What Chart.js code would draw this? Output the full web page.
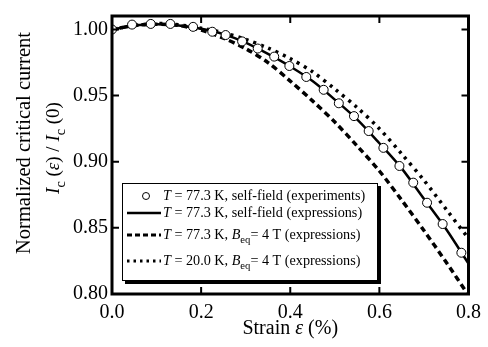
<!DOCTYPE html>
<html>
<head>
<meta charset="utf-8">
<script src="https://cdn.jsdelivr.net/npm/chart.js@4"></script>
<style>
  html, body { margin: 0; padding: 0; background: #fff; }
  #wrap { width: 488px; height: 347px; }
</style>
</head>
<body>
<div id="wrap"><canvas id="strainChart" width="488" height="347"></canvas></div>
<script>
// experiments, T = 77.3 K self-field
const strainExp = [0, 0.045, 0.087, 0.131, 0.182, 0.225, 0.255, 0.292, 0.327, 0.364, 0.398,
    0.436, 0.475, 0.509, 0.543, 0.576, 0.609, 0.645, 0.676, 0.707, 0.742, 0.784];
const icExp = [1.000, 1.0037, 1.0042, 1.0042, 1.002, 0.9983, 0.9958, 0.991, 0.9856, 0.9795, 0.9724,
    0.9641, 0.9544, 0.9442, 0.9345, 0.9232, 0.9105, 0.8968, 0.8842, 0.869, 0.8529, 0.8312];

// expressions
const strainCalc = [0, 0.05, 0.1, 0.15, 0.2, 0.25, 0.3, 0.35, 0.4, 0.45, 0.5, 0.55, 0.6, 0.65, 0.7, 0.75, 0.8];
const icSelf77 = [1.000, 1.003, 1.004, 1.003, 1.0005, 0.9965, 0.990, 0.9815, 0.972, 0.961, 0.947,
    0.932, 0.914, 0.895, 0.872, 0.849, 0.823];
const icB4at77 = [1.000, 1.003, 1.004, 1.003, 0.9995, 0.9935, 0.9855, 0.975, 0.961, 0.946, 0.930,
    0.912, 0.893, 0.871, 0.848, 0.824, 0.799];
const icB4at20 = [1.000, 1.003, 1.0045, 1.0035, 1.001, 0.9975, 0.9925, 0.986, 0.978, 0.968, 0.955,
    0.941, 0.925, 0.906, 0.886, 0.864, 0.842];

const xTicks = [0, 0.2, 0.4, 0.6, 0.8];
const yTicks = [0.80, 0.85, 0.90, 0.95, 1.00];

const SERIF = '"Liberation Serif", "DejaVu Serif", serif';

function pairs(xs, ys) {
    return xs.map((x, i) => ({ x: x, y: ys[i] }));
}

// draws a row of text parts: {t, it (italic), sub}
function richWidth(ctx, parts, size) {
    let w = 0;
    parts.forEach(p => {
        const s = p.sub ? size * 0.75 : size;
        ctx.font = (p.it ? 'italic ' : '') + s + 'px ' + SERIF;
        w += ctx.measureText(p.t).width;
    });
    return w;
}
function richText(ctx, parts, x, y, size) {
    ctx.textAlign = 'left';
    ctx.textBaseline = 'middle';
    parts.forEach(p => {
        const s = p.sub ? size * 0.75 : size;
        ctx.font = (p.it ? 'italic ' : '') + s + 'px ' + SERIF;
        ctx.fillText(p.t, x, p.sub ? y + size * 0.38 : y);
        x += ctx.measureText(p.t).width;
    });
}

const framePlugin = {
    id: 'frame',
    afterDraw(chart) {
        const ctx = chart.ctx;
        const a = chart.chartArea;
        const xs = chart.scales.x, ys = chart.scales.y;
        ctx.save();
        ctx.strokeStyle = '#000';
        ctx.lineWidth = 3;
        ctx.strokeRect(a.left, a.top, a.right - a.left, a.bottom - a.top);
        // inward ticks on all sides
        ctx.lineWidth = 2;
        ctx.beginPath();
        [0.2, 0.4, 0.6].forEach(v => {
            const px = xs.getPixelForValue(v);
            ctx.moveTo(px, a.bottom); ctx.lineTo(px, a.bottom - 7);
            ctx.moveTo(px, a.top); ctx.lineTo(px, a.top + 7);
        });
        [0.85, 0.90, 0.95, 1.00].forEach(v => {
            const py = ys.getPixelForValue(v);
            ctx.moveTo(a.left, py); ctx.lineTo(a.left + 7, py);
            ctx.moveTo(a.right, py); ctx.lineTo(a.right - 7, py);
        });
        ctx.stroke();

        // axis titles
        ctx.fillStyle = '#000';
        const xt = [{ t: 'Strain ' }, { t: 'ε', it: true }, { t: ' (%)' }];
        const xw = richWidth(ctx, xt, 20);
        richText(ctx, xt, (a.left + a.right) / 2 - xw / 2, 329, 20);

        ctx.save();
        ctx.translate(25, 143);
        ctx.rotate(-Math.PI / 2);
        const l1 = [{ t: 'Normalized critical current' }];
        richText(ctx, l1, -richWidth(ctx, l1, 20.5) / 2, 0, 20.5);
        ctx.restore();
        ctx.save();
        ctx.translate(54, 148);
        ctx.rotate(-Math.PI / 2);
        const l2 = [{ t: 'I', it: true }, { t: 'c', sub: true }, { t: ' (' }, { t: 'ε', it: true },
            { t: ') / ' }, { t: 'I', it: true }, { t: 'c', sub: true }, { t: ' (0)' }];
        richText(ctx, l2, -richWidth(ctx, l2, 19) / 2, 0, 19);
        ctx.restore();

        // legend box with shadow
        const bx = 122, by = 183, bw = 256, bh = 98;
        ctx.fillStyle = '#000';
        ctx.fillRect(bx + 3, by + 3, bw, bh);
        ctx.fillStyle = '#fff';
        ctx.fillRect(bx, by, bw, bh);
        ctx.lineWidth = 1;
        ctx.strokeRect(bx + 0.5, by + 0.5, bw - 1, bh - 1);

        const rows = [
            { y: 196, kind: 'circle', parts: [{ t: 'T', it: true }, { t: ' = 77.3 K, self-field (experiments)' }] },
            { y: 213, kind: 'solid', parts: [{ t: 'T', it: true }, { t: ' = 77.3 K, self-field (expressions)' }] },
            { y: 235, kind: 'dash', parts: [{ t: 'T', it: true }, { t: ' = 77.3 K, ' }, { t: 'B', it: true },
                { t: 'eq', sub: true }, { t: '= 4 T (expressions)' }] },
            { y: 261, kind: 'dot', parts: [{ t: 'T', it: true }, { t: ' = 20.0 K, ' }, { t: 'B', it: true },
                { t: 'eq', sub: true }, { t: '= 4 T (expressions)' }] }
        ];
        rows.forEach(r => {
            ctx.strokeStyle = '#000';
            if (r.kind === 'circle') {
                ctx.lineWidth = 1;
                ctx.beginPath();
                ctx.arc(146, r.y, 3.5, 0, Math.PI * 2);
                ctx.fillStyle = '#fff';
                ctx.fill();
                ctx.stroke();
            } else {
                ctx.beginPath();
                ctx.lineWidth = r.kind === 'solid' ? 2.5 : 3;
                ctx.setLineDash(r.kind === 'dash' ? [5, 3] : r.kind === 'dot' ? [2.5, 4] : []);
                ctx.moveTo(127, r.y);
                ctx.lineTo(161, r.y);
                ctx.stroke();
                ctx.setLineDash([]);
            }
            ctx.fillStyle = '#000';
            richText(ctx, r.parts, 163, r.y, 14.2);
        });
        ctx.restore();
    }
};

new Chart(document.getElementById('strainChart'), {
    type: 'line',
    data: {
        datasets: [{
            label: 'T = 77.3 K, self-field (experiments)',
            data: pairs(strainExp, icExp),
            showLine: false,
            pointRadius: 4.5,
            pointBorderWidth: 1,
            pointBorderColor: '#000',
            pointBackgroundColor: '#fff',
            order: 0
        }, {
            label: 'T = 77.3 K, self-field (expressions)',
            data: pairs(strainCalc, icSelf77),
            borderColor: '#000',
            borderWidth: 2.5,
            pointRadius: 0,
            tension: 0.3,
            order: 1
        }, {
            label: 'T = 77.3 K, Beq = 4 T (expressions)',
            data: pairs(strainCalc, icB4at77),
            borderColor: '#000',
            borderWidth: 3.5,
            borderDash: [6, 4],
            pointRadius: 0,
            tension: 0.3,
            order: 2
        }, {
            label: 'T = 20.0 K, Beq = 4 T (expressions)',
            data: pairs(strainCalc, icB4at20),
            borderColor: '#000',
            borderWidth: 3.5,
            borderDash: [3, 5],
            pointRadius: 0,
            tension: 0.3,
            order: 3
        }]
    },
    options: {
        responsive: false,
        animation: false,
        layout: { padding: { top: 7, right: 18, left: 0, bottom: 0 } },
        plugins: { legend: { display: false }, tooltip: { enabled: false } },
        scales: {
            x: {
                type: 'linear',
                min: 0,
                max: 0.8,
                afterBuildTicks: s => { s.ticks = xTicks.map(v => ({ value: v })); },
                afterFit: s => { s.height = 53; },
                grid: { display: false, drawTicks: false },
                border: { display: false },
                ticks: {
                    padding: 7,
                    color: '#000',
                    font: { family: SERIF, size: 20 },
                    callback: v => v.toFixed(1)
                }
            },
            y: {
                min: 0.80,
                max: 1.0102,
                afterBuildTicks: s => { s.ticks = yTicks.map(v => ({ value: v })); },
                afterFit: s => { s.width = 112; },
                grid: { display: false, drawTicks: false },
                border: { display: false },
                ticks: {
                    padding: 4,
                    color: '#000',
                    font: { family: SERIF, size: 20 },
                    callback: v => v.toFixed(2)
                }
            }
        }
    },
    plugins: [framePlugin]
});
</script>
</body>
</html>
